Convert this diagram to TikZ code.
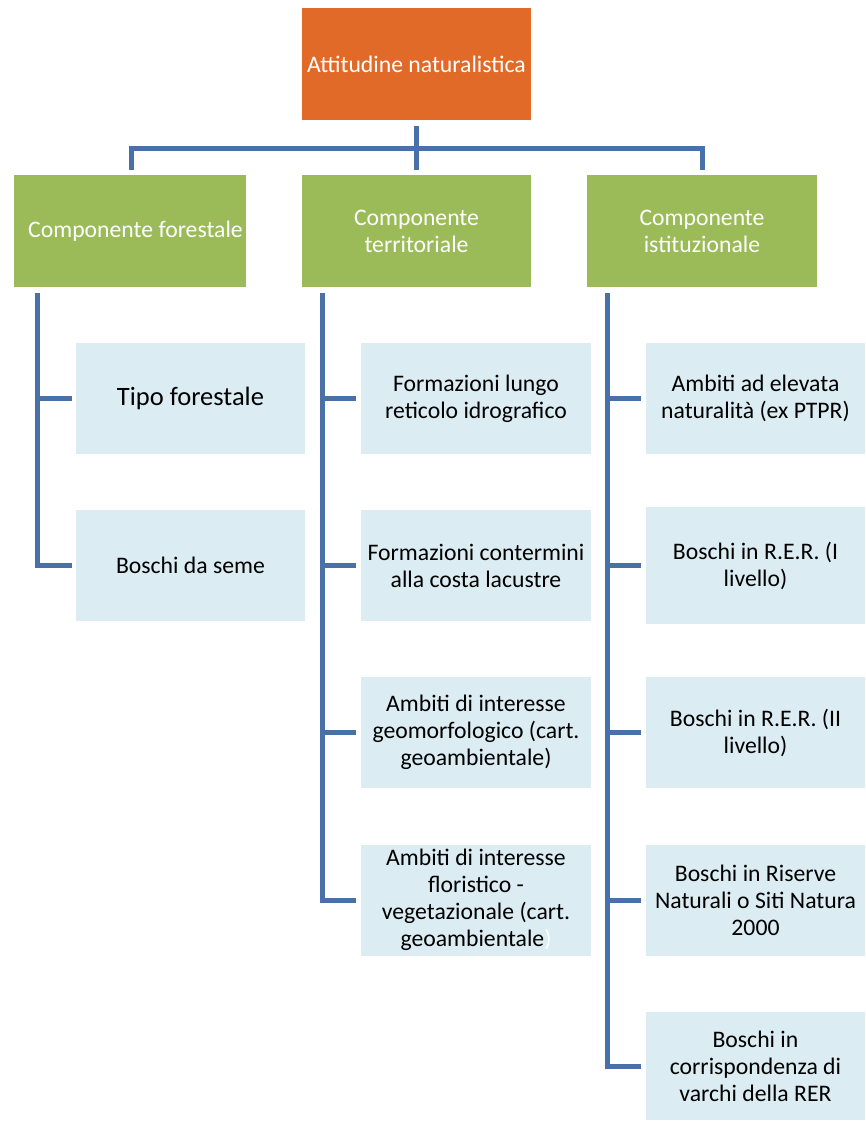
\documentclass[tikz,border=0pt]{standalone}
\usepackage{fontspec}
\setmainfont{Carlito}
\definecolor{orangebox}{RGB}{226,106,40}
\definecolor{greenbox}{RGB}{155,187,89}
\definecolor{bluebox}{RGB}{219,236,243}
\definecolor{conncol}{RGB}{74,112,168}
\begin{document}
\begin{tikzpicture}[x=1pt,y=-1pt,
  box/.style={rectangle, inner sep=0pt, align=center, font=\fontsize{23.7}{27}\selectfont},
  topbox/.style={box, fill=orangebox, text=white, minimum width=229pt, minimum height=112pt},
  compbox/.style={box, fill=greenbox, text=white, minimum height=112pt},
  leafbox/.style={box, fill=bluebox, text=black, minimum height=111pt},
  conn/.style={draw=conncol, line width=5pt, line join=miter}
]
\useasboundingbox (0,0) rectangle (865,1122);

% top
\node[topbox] (top) at (416.5,64) {Attitudine naturalistica};

% components
\node[compbox, minimum width=232pt] (g1) at (130,231) {\hspace*{11pt}Componente forestale};
\node[compbox, minimum width=229pt] (g2) at (416.5,231) {Componente\\territoriale};
\node[compbox, minimum width=230pt] (g3) at (702,231) {Componente\\istituzionale};

% left column
\node[leafbox, minimum width=229pt, font=\fontsize{26.5}{30}\selectfont] (a1) at (190.5,398.5) {Tipo forestale};
\node[leafbox, minimum width=229pt] (a2) at (190.5,565.5) {Boschi da seme};

% middle column
\node[leafbox, minimum width=230pt] (b1) at (476,398.5) {Formazioni lungo\\reticolo idrografico};
\node[leafbox, minimum width=230pt] (b2) at (476,565.5) {Formazioni contermini\\alla costa lacustre};
\node[leafbox, minimum width=230pt] (b3) at (476,732.5) {Ambiti di interesse\\geomorfologico (cart.\\geoambientale)};
\node[leafbox, minimum width=230pt] (b4) at (476,900) {Ambiti di interesse\\floristico -\\vegetazionale (cart.\\geoambientale\textcolor{white}{)}};

% right column
\node[leafbox, minimum width=219pt] (c1) at (755.5,398.5) {Ambiti ad elevata\\naturalità (ex PTPR)};
\node[leafbox, minimum width=219pt, minimum height=117pt] (c2) at (755.5,565.5) {Boschi in R.E.R. (I\\livello)};
\node[leafbox, minimum width=219pt] (c3) at (755.5,732.5) {Boschi in R.E.R. (II\\livello)};
\node[leafbox, minimum width=219pt] (c4) at (755.5,900) {Boschi in Riserve\\Naturali o Siti Natura\\2000};
\node[leafbox, minimum width=219pt, minimum height=108pt] (c5) at (755.5,1066) {Boschi in\\corrispondenza di\\varchi della RER};

% top connectors
\coordinate (bus) at (416.5,148);
\draw[conn] ([yshift=-6pt]top.south) -- ([yshift=5pt]g2.north);
\draw[conn] ([xshift=1pt,yshift=5pt]g1.north) |- (bus) -| ([yshift=5pt]g3.north);

% spines
\coordinate (s1) at ([xshift=24pt,yshift=-6pt]g1.south west);
\coordinate (s2) at ([xshift=21pt,yshift=-6pt]g2.south west);
\coordinate (s3) at ([xshift=21pt,yshift=-6pt]g3.south west);

\draw[conn] (s1) |- ([xshift=-4pt]a2.west);
\draw[conn] (s1 |- a1.west) -- ([xshift=-4pt]a1.west);

\draw[conn] (s2) |- ([xshift=-5pt]b4.west);
\draw[conn] (s2 |- b1.west) -- ([xshift=-5pt]b1.west);
\draw[conn] (s2 |- b2.west) -- ([xshift=-5pt]b2.west);
\draw[conn] (s2 |- b3.west) -- ([xshift=-5pt]b3.west);

\draw[conn] (s3) |- ([xshift=-5pt]c5.west);
\draw[conn] (s3 |- c1.west) -- ([xshift=-5pt]c1.west);
\draw[conn] (s3 |- c2.west) -- ([xshift=-5pt]c2.west);
\draw[conn] (s3 |- c3.west) -- ([xshift=-5pt]c3.west);
\draw[conn] (s3 |- c4.west) -- ([xshift=-5pt]c4.west);
\end{tikzpicture}
\end{document}
